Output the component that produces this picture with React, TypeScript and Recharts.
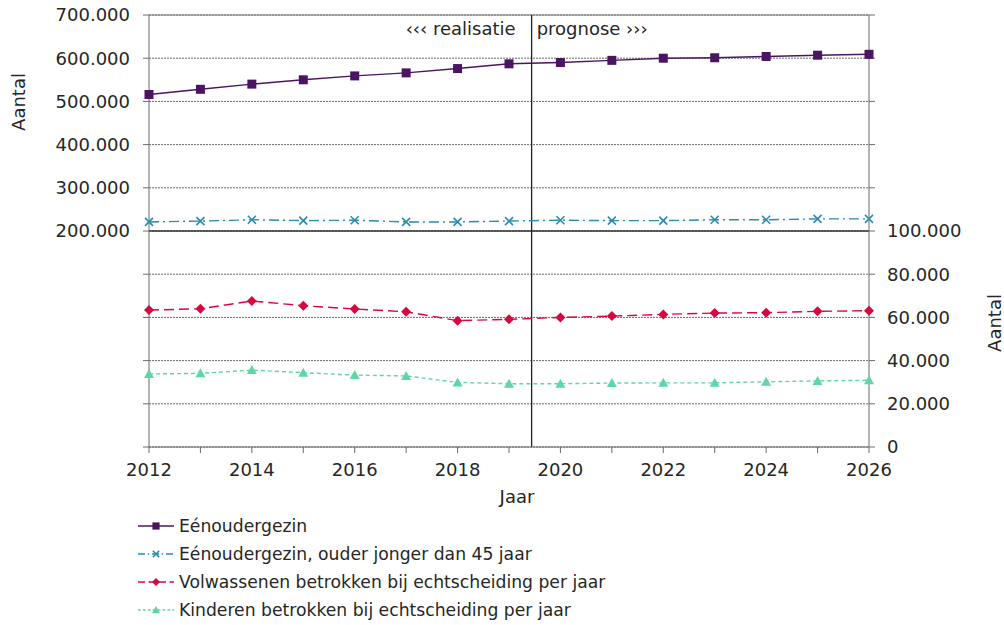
import React from "react";
import {
  CartesianGrid,
  Legend,
  Line,
  LineChart,
  ReferenceLine,
  XAxis,
  YAxis,
} from "recharts";

const years = [2012, 2013, 2014, 2015, 2016, 2017, 2018, 2019, 2020, 2021, 2022, 2023, 2024, 2025, 2026];
const eenouder = [516000, 528000, 540000, 550000, 559000, 566000, 576000, 587000, 590000, 595000, 600000, 601000, 604000, 607000, 609000];
const eenouderJong = [221000, 223000, 226000, 224000, 225000, 221000, 221000, 223000, 225000, 224000, 224000, 226000, 226000, 228000, 228000];
const volwassenen = [63400, 64000, 67600, 65400, 63900, 62600, 58500, 59100, 60000, 60600, 61400, 62000, 62200, 62800, 63100];
const kinderen = [33800, 34100, 35600, 34400, 33300, 32900, 29900, 29300, 29300, 29600, 29700, 29700, 30200, 30600, 30900];

const leftTicks = [-300000, -200000, -100000, 0, 100000, 200000, 300000, 400000, 500000, 600000, 700000];
const rightTicks = [0, 20000, 40000, 60000, 80000, 100000, 120000, 140000, 160000, 180000, 200000];

const data = years.map((y, i) => ({
  jaar: y,
  eenouder: eenouder[i],
  eenouderJong: eenouderJong[i],
  volwassenen: volwassenen[i],
  kinderen: kinderen[i],
}));

const FONT = "'DejaVu Sans', Verdana, sans-serif";
const TEXT = "#262626";

const fmt = (n: number) => String(n).replace(/\B(?=(\d{3})+(?!\d))/g, ".");

type Shape = "square" | "cross" | "diamond" | "triangle";

const series = [
  { key: "eenouder", name: "Eénoudergezin", color: "#4a1463", dash: "", shape: "square" as Shape, axis: "left" },
  { key: "eenouderJong", name: "Eénoudergezin, ouder jonger dan 45 jaar", color: "#2a8ab0", dash: "10 4 2 4", shape: "cross" as Shape, axis: "left" },
  { key: "volwassenen", name: "Volwassenen betrokken bij echtscheiding per jaar", color: "#d6083f", dash: "10 5", shape: "diamond" as Shape, axis: "right" },
  { key: "kinderen", name: "Kinderen betrokken bij echtscheiding per jaar", color: "#5fd6a6", dash: "4 3", shape: "triangle" as Shape, axis: "right" },
];

function Marker({ cx, cy, shape, color, s = 1 }: { cx: number; cy: number; shape: Shape; color: string; s?: number }) {
  if (cx == null || cy == null) return null;
  if (shape === "square") return <rect x={cx - 4.5 * s} y={cy - 4.5 * s} width={9 * s} height={9 * s} fill={color} />;
  if (shape === "cross")
    return (
      <path
        d={`M${cx - 4 * s},${cy - 4 * s}L${cx + 4 * s},${cy + 4 * s}M${cx - 4 * s},${cy + 4 * s}L${cx + 4 * s},${cy - 4 * s}`}
        stroke={color}
        strokeWidth={1.6}
      />
    );
  if (shape === "diamond")
    return <path d={`M${cx},${cy - 5 * s}L${cx + 5 * s},${cy}L${cx},${cy + 5 * s}L${cx - 5 * s},${cy}Z`} fill={color} />;
  return <path d={`M${cx},${cy - 5 * s}L${cx + 5 * s},${cy + 4 * s}L${cx - 5 * s},${cy + 4 * s}Z`} fill={color} />;
}

function LegendBox() {
  return (
    <div style={{ fontFamily: FONT, fontSize: 17.2, color: TEXT }}>
      {series.map((s) => (
        <div key={s.key} style={{ display: "flex", alignItems: "center", height: 28 }}>
          <svg width={36} height={12} style={{ marginRight: 5 }}>
            <line
              x1={0}
              y1={6}
              x2={36}
              y2={6}
              stroke={s.color}
              strokeWidth={1.3}
              strokeDasharray={s.dash ? s.dash.split(" ").map((v) => Number(v) * 0.7).join(" ") : undefined}
            />
            <Marker cx={18} cy={6} shape={s.shape} color={s.color} s={0.8} />
          </svg>
          <span>{s.name}</span>
        </div>
      ))}
    </div>
  );
}

export default function App() {
  return (
    <div style={{ position: "absolute", left: 0, top: 0, background: "#fff" }}>
      <LineChart width={1004} height={625} data={data} margin={{ top: 15, right: 0, bottom: 0, left: 0 }}>
        <CartesianGrid yAxisId="left" vertical={false} stroke="#6a6a6a" strokeDasharray="2 1" />
        <XAxis
          dataKey="jaar"
          type="number"
          domain={[2012, 2026]}
          ticks={years}
          tickFormatter={(v: number) => (v % 2 === 0 ? String(v) : "")}
          height={178}
          tickSize={6}
          tickMargin={10}
          stroke="#6a6a6a"
          tick={{ fill: TEXT, fontSize: 18, fontFamily: FONT }}
          label={{
            content: ({ viewBox }: any) => (
              <text x={viewBox.x + viewBox.width / 2 + 8} y={viewBox.y + 56} textAnchor="middle" fontSize={18} fontFamily={FONT} fill={TEXT}>
                Jaar
              </text>
            ),
          }}
        />
        <YAxis
          yAxisId="left"
          domain={[-300000, 700000]}
          ticks={leftTicks}
          interval={0}
          tickFormatter={(v: number) => (v >= 200000 ? fmt(v) : "")}
          width={149}
          tickSize={6}
          tickMargin={13}
          stroke="#6a6a6a"
          tick={{ fill: TEXT, fontSize: 18, fontFamily: FONT }}
          label={{
            content: () => (
              <text x={0} y={0} transform="translate(25,102) rotate(-90)" textAnchor="middle" fontSize={18} fontFamily={FONT} fill={TEXT}>
                Aantal
              </text>
            ),
          }}
        />
        <YAxis
          yAxisId="right"
          orientation="right"
          domain={[0, 200000]}
          ticks={rightTicks}
          interval={0}
          tickFormatter={(v: number) => (v <= 100000 ? fmt(v) : "")}
          width={135}
          tickSize={6}
          tickMargin={12}
          stroke="#6a6a6a"
          tick={{ fill: TEXT, fontSize: 18, fontFamily: FONT }}
          label={{
            content: () => (
              <text x={0} y={0} transform="translate(1001,323) rotate(-90)" textAnchor="middle" fontSize={18} fontFamily={FONT} fill={TEXT}>
                Aantal
              </text>
            ),
          }}
        />
        <ReferenceLine yAxisId="left" y={700000} stroke="#7a7a7a" />
        <ReferenceLine yAxisId="left" y={200000} stroke="#333" strokeWidth={1.5} />
        <ReferenceLine
          yAxisId="left"
          x={2019.44}
          stroke="#222"
          strokeWidth={1.3}
          label={{
            content: ({ viewBox }: any) => (
              <g fontSize={18} fontFamily={FONT} fill={TEXT}>
                <text x={viewBox.x - 16} y={35} textAnchor="end">
                  ‹‹‹ realisatie
                </text>
                <text x={viewBox.x + 5} y={35} textAnchor="start">
                  prognose ›››
                </text>
              </g>
            ),
          }}
        />
        {series.map((s) => (
          <Line
            key={s.key}
            yAxisId={s.axis}
            dataKey={s.key}
            name={s.name}
            stroke={s.color}
            strokeWidth={1.4}
            strokeDasharray={s.dash || undefined}
            dot={(p: any) => <Marker key={`${s.key}-${p.index}`} cx={p.cx} cy={p.cy} shape={s.shape} color={s.color} />}
            activeDot={false}
            isAnimationActive={false}
          />
        ))}
        <Legend
          layout="vertical"
          align="center"
          verticalAlign="middle"
          width={620}
          wrapperStyle={{ left: 138, top: 512 }}
          content={() => <LegendBox />}
        />
      </LineChart>
    </div>
  );
}
